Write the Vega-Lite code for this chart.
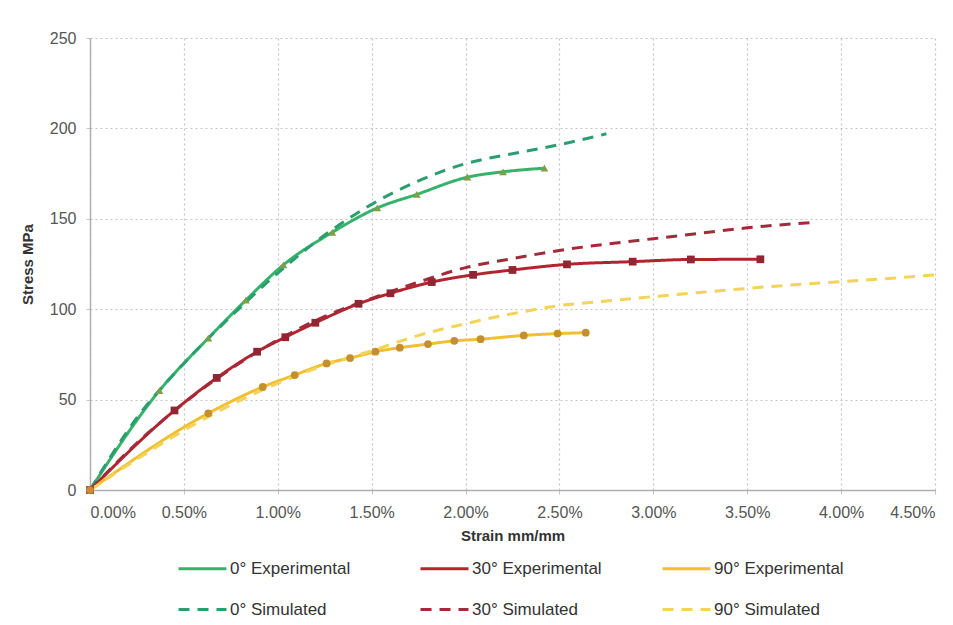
{
  "$schema": "https://vega.github.io/schema/vega-lite/v6.json",
  "width": 845,
  "height": 452,
  "autosize": {"type": "none"},
  "padding": {"left": 90, "top": 38, "right": 18, "bottom": 135},
  "background": "white",
  "config": {
    "view": {"stroke": null},
    "font": "Liberation Sans",
    "axis": {
      "labelFont": "Liberation Sans",
      "labelFontSize": 16,
      "labelColor": "#555",
      "titleFont": "Liberation Sans",
      "titleFontSize": 15,
      "titleFontWeight": "bold",
      "titleColor": "#333",
      "gridColor": "#c4c4c4",
      "gridDash": [2, 3],
      "gridWidth": 1.2,
      "domainColor": "#b0b0b0",
      "domainWidth": 1.5,
      "tickColor": "#c4c4c4",
      "tickSize": 4
    }
  },
  "data": {
    "values": [
      {"series": "0° Experimental", "strain": 0.0, "stress": 0},
      {"series": "0° Experimental", "strain": 0.0037, "stress": 55},
      {"series": "0° Experimental", "strain": 0.0063, "stress": 84},
      {"series": "0° Experimental", "strain": 0.0083, "stress": 105},
      {"series": "0° Experimental", "strain": 0.0103, "stress": 124.5},
      {"series": "0° Experimental", "strain": 0.0129, "stress": 142.5},
      {"series": "0° Experimental", "strain": 0.0153, "stress": 156},
      {"series": "0° Experimental", "strain": 0.0174, "stress": 163.5},
      {"series": "0° Experimental", "strain": 0.0201, "stress": 173},
      {"series": "0° Experimental", "strain": 0.0220, "stress": 176},
      {"series": "0° Experimental", "strain": 0.0242, "stress": 178},

      {"series": "30° Experimental", "strain": 0.0, "stress": 0},
      {"series": "30° Experimental", "strain": 0.0045, "stress": 44},
      {"series": "30° Experimental", "strain": 0.00675, "stress": 62},
      {"series": "30° Experimental", "strain": 0.0089, "stress": 76.5},
      {"series": "30° Experimental", "strain": 0.0104, "stress": 84.5},
      {"series": "30° Experimental", "strain": 0.0120, "stress": 92.5},
      {"series": "30° Experimental", "strain": 0.0143, "stress": 103},
      {"series": "30° Experimental", "strain": 0.0160, "stress": 108.8},
      {"series": "30° Experimental", "strain": 0.0182, "stress": 115},
      {"series": "30° Experimental", "strain": 0.0204, "stress": 119},
      {"series": "30° Experimental", "strain": 0.0225, "stress": 121.7},
      {"series": "30° Experimental", "strain": 0.0254, "stress": 124.8},
      {"series": "30° Experimental", "strain": 0.0289, "stress": 126.3},
      {"series": "30° Experimental", "strain": 0.0320, "stress": 127.5},
      {"series": "30° Experimental", "strain": 0.0357, "stress": 127.6},

      {"series": "90° Experimental", "strain": 0.0, "stress": 0},
      {"series": "90° Experimental", "strain": 0.0063, "stress": 42.4},
      {"series": "90° Experimental", "strain": 0.0092, "stress": 57},
      {"series": "90° Experimental", "strain": 0.0109, "stress": 63.6},
      {"series": "90° Experimental", "strain": 0.0126, "stress": 70},
      {"series": "90° Experimental", "strain": 0.01385, "stress": 73},
      {"series": "90° Experimental", "strain": 0.0152, "stress": 76.5},
      {"series": "90° Experimental", "strain": 0.0165, "stress": 78.7},
      {"series": "90° Experimental", "strain": 0.0180, "stress": 80.7},
      {"series": "90° Experimental", "strain": 0.0194, "stress": 82.5},
      {"series": "90° Experimental", "strain": 0.0208, "stress": 83.4},
      {"series": "90° Experimental", "strain": 0.0231, "stress": 85.5},
      {"series": "90° Experimental", "strain": 0.0249, "stress": 86.5},
      {"series": "90° Experimental", "strain": 0.0264, "stress": 87},

      {"series": "0° Simulated", "strain": 0.0, "stress": 0},
      {"series": "0° Simulated", "strain": 0.0025, "stress": 40},
      {"series": "0° Simulated", "strain": 0.005, "stress": 70},
      {"series": "0° Simulated", "strain": 0.0075, "stress": 96},
      {"series": "0° Simulated", "strain": 0.010, "stress": 120},
      {"series": "0° Simulated", "strain": 0.0125, "stress": 141},
      {"series": "0° Simulated", "strain": 0.015, "stress": 158},
      {"series": "0° Simulated", "strain": 0.0175, "stress": 171},
      {"series": "0° Simulated", "strain": 0.020, "stress": 180.5},
      {"series": "0° Simulated", "strain": 0.0225, "stress": 186},
      {"series": "0° Simulated", "strain": 0.025, "stress": 191},
      {"series": "0° Simulated", "strain": 0.0275, "stress": 197},

      {"series": "30° Simulated", "strain": 0.0, "stress": 0},
      {"series": "30° Simulated", "strain": 0.0025, "stress": 26},
      {"series": "30° Simulated", "strain": 0.005, "stress": 48},
      {"series": "30° Simulated", "strain": 0.0075, "stress": 67},
      {"series": "30° Simulated", "strain": 0.010, "stress": 83},
      {"series": "30° Simulated", "strain": 0.0125, "stress": 96},
      {"series": "30° Simulated", "strain": 0.015, "stress": 106},
      {"series": "30° Simulated", "strain": 0.0175, "stress": 115},
      {"series": "30° Simulated", "strain": 0.020, "stress": 123},
      {"series": "30° Simulated", "strain": 0.0225, "stress": 128},
      {"series": "30° Simulated", "strain": 0.025, "stress": 132.5},
      {"series": "30° Simulated", "strain": 0.0275, "stress": 136},
      {"series": "30° Simulated", "strain": 0.030, "stress": 139},
      {"series": "30° Simulated", "strain": 0.0325, "stress": 142},
      {"series": "30° Simulated", "strain": 0.035, "stress": 145},
      {"series": "30° Simulated", "strain": 0.0385, "stress": 148},

      {"series": "90° Simulated", "strain": 0.0, "stress": 0},
      {"series": "90° Simulated", "strain": 0.0025, "stress": 17},
      {"series": "90° Simulated", "strain": 0.005, "stress": 33},
      {"series": "90° Simulated", "strain": 0.0075, "stress": 47},
      {"series": "90° Simulated", "strain": 0.010, "stress": 59},
      {"series": "90° Simulated", "strain": 0.0125, "stress": 69},
      {"series": "90° Simulated", "strain": 0.015, "stress": 77},
      {"series": "90° Simulated", "strain": 0.0175, "stress": 85.5},
      {"series": "90° Simulated", "strain": 0.020, "stress": 92},
      {"series": "90° Simulated", "strain": 0.0225, "stress": 97.5},
      {"series": "90° Simulated", "strain": 0.025, "stress": 102},
      {"series": "90° Simulated", "strain": 0.0275, "stress": 104.5},
      {"series": "90° Simulated", "strain": 0.030, "stress": 107},
      {"series": "90° Simulated", "strain": 0.0325, "stress": 109.3},
      {"series": "90° Simulated", "strain": 0.035, "stress": 111.5},
      {"series": "90° Simulated", "strain": 0.0375, "stress": 113.5},
      {"series": "90° Simulated", "strain": 0.040, "stress": 115.3},
      {"series": "90° Simulated", "strain": 0.0425, "stress": 117},
      {"series": "90° Simulated", "strain": 0.045, "stress": 119}
    ]
  },
  "encoding": {
    "x": {
      "field": "strain", "type": "quantitative",
      "scale": {"domain": [0, 0.045], "nice": false},
      "axis": {"values": [0, 0.005, 0.01, 0.015, 0.02, 0.025, 0.03, 0.035, 0.04, 0.045], "format": ".2%", "title": "Strain mm/mm", "titlePadding": 8, "labelPadding": 10}
    },
    "y": {
      "field": "stress", "type": "quantitative",
      "scale": {"domain": [0, 250], "nice": false},
      "axis": {"values": [0, 50, 100, 150, 200, 250], "title": "Stress MPa", "titlePadding": 14, "labelPadding": 10}
    }
  },
  "layer": [
    {
      "mark": {"type": "line", "strokeWidth": 3, "interpolate": "monotone"},
      "encoding": {
        "color": {
          "field": "series", "type": "nominal",
          "scale": {
            "domain": ["0° Experimental", "30° Experimental", "90° Experimental", "0° Simulated", "30° Simulated", "90° Simulated"],
            "range": ["#35b36b", "#b3242f", "#f0c030", "#2b9e70", "#a32a3a", "#f3d35a"]
          },
          "legend": {
            "title": null,
            "orient": "none",
            "legendX": 87,
            "legendY": 505,
            "direction": "horizontal",
            "columns": 3,
            "gridAlign": "all",
            "columnPadding": 54,
            "rowPadding": 7,
            "symbolType": "stroke",
            "symbolSize": 2300,
            "symbolStrokeWidth": 3,
            "labelFontSize": 17,
            "labelColor": "#333",
            "labelFont": "Liberation Sans",
            "labelOffset": 2
          }
        },
        "strokeDash": {
          "field": "series", "type": "nominal",
          "scale": {
            "domain": ["0° Experimental", "30° Experimental", "90° Experimental", "0° Simulated", "30° Simulated", "90° Simulated"],
            "range": [[1, 0], [1, 0], [1, 0], [11, 8], [11, 8], [11, 8]]
          }
        }
      }
    },
    {
      "transform": [{"filter": "indexof(datum.series, 'Experimental') >= 0"}],
      "mark": {"type": "point", "filled": true, "size": 60, "opacity": 1},
      "encoding": {
        "fill": {
          "field": "series", "type": "nominal",
          "scale": {"domain": ["0° Experimental", "30° Experimental", "90° Experimental"], "range": ["#7f9e45", "#8f2632", "#c58f30"]},
          "legend": null
        },
        "shape": {
          "field": "series", "type": "nominal",
          "scale": {"domain": ["0° Experimental", "30° Experimental", "90° Experimental"], "range": ["triangle-up", "square", "circle"]},
          "legend": null
        }
      }
    }
  ]
}
